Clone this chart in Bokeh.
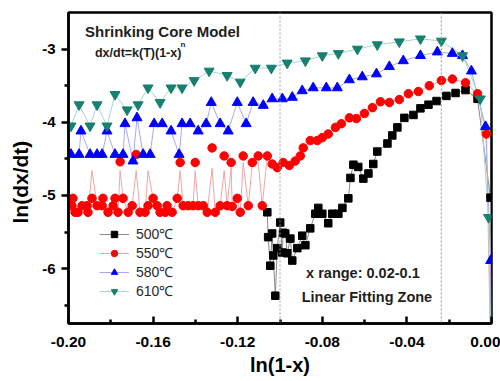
from bokeh.plotting import figure
from bokeh.models import (Range1d, FixedTicker, PrintfTickFormatter, Label, Span,
                          Legend, LegendItem, Title)
from bokeh.embed import file_html
from bokeh.resources import INLINE

# ---------------- data ----------------
series_labels = ["500℃", "550℃", "580℃", "610℃"]

x500 = [-0.1060, -0.1056, -0.1046, -0.1037, -0.1032, -0.1022, -0.1013, -0.0999, -0.0989, -0.0985,
        -0.0975, -0.0966, -0.0951, -0.0942, -0.0918, -0.0895, -0.0880, -0.0857, -0.0833, -0.0819,
        -0.0800, -0.0772, -0.0753, -0.0724, -0.0705, -0.0677, -0.0667, -0.0653, -0.0630, -0.0606,
        -0.0582, -0.0559, -0.0540, -0.0492, -0.0469, -0.0445, -0.0412, -0.0369, -0.0336, -0.0298,
        -0.0260, -0.0213, -0.0170, -0.0123, -0.0066, -0.0005, -0.0002]
y500 = [-5.23, -5.57, -5.96, -5.52, -5.82, -6.37, -5.72, -5.37, -5.78, -5.51,
        -5.52, -5.79, -5.59, -5.89, -5.72, -5.55, -5.68, -5.45, -5.25, -5.17,
        -5.25, -5.38, -5.25, -5.25, -5.17, -5.04, -4.76, -4.58, -4.61, -4.77,
        -4.70, -4.57, -4.40, -4.29, -4.18, -4.07, -3.94, -3.90, -3.81, -3.76,
        -3.71, -3.64, -3.60, -3.56, -3.68, -5.03, -7.50]

x550 = [-0.1984, -0.1979, -0.1969, -0.1955, -0.1936, -0.1912, -0.1908, -0.1889, -0.1865, -0.1841,
        -0.1837, -0.1813, -0.1789, -0.1780, -0.1766, -0.1756, -0.1742, -0.1718, -0.1699, -0.1680,
        -0.1662, -0.1638, -0.1624, -0.1600, -0.1581, -0.1567, -0.1543, -0.1534, -0.1510, -0.1486,
        -0.1472, -0.1458, -0.1434, -0.1411, -0.1401, -0.1387, -0.1363, -0.1344, -0.1321, -0.1306,
        -0.1283, -0.1264, -0.1250, -0.1231, -0.1226, -0.1202, -0.1188, -0.1174, -0.1150, -0.1131,
        -0.1103, -0.1084, -0.1060, -0.1037, -0.1013, -0.0985, -0.0956, -0.0928, -0.0904, -0.0890,
        -0.0857, -0.0824, -0.0800, -0.0772, -0.0738, -0.0710, -0.0672, -0.0639, -0.0601, -0.0563,
        -0.0525, -0.0483, -0.0436, -0.0393, -0.0346, -0.0294, -0.0237, -0.0185, -0.0123, -0.0066,
        -0.0024, -0.0002]
y550 = [-5.14, -5.04, -5.23, -5.23, -5.14, -5.14, -5.23, -5.04, -5.14, -5.14,
        -5.04, -5.23, -5.14, -5.04, -5.23, -4.54, -5.04, -5.23, -5.14, -4.44,
        -5.23, -5.23, -5.14, -5.04, -5.14, -5.23, -5.23, -5.14, -5.23, -5.04,
        -4.55, -5.14, -5.14, -5.14, -4.55, -5.14, -5.14, -5.23, -4.35, -5.23,
        -5.14, -4.46, -5.14, -4.55, -5.15, -5.04, -5.23, -4.46, -5.14, -4.55,
        -4.46, -5.14, -4.46, -4.57, -4.62, -4.55, -4.59, -4.53, -4.46, -4.35,
        -4.25, -4.25, -4.21, -4.16, -4.07, -4.02, -3.94, -3.95, -3.88, -3.80,
        -3.72, -3.73, -3.69, -3.61, -3.58, -3.50, -3.43, -3.41, -3.46, -3.61,
        -4.16, -7.50]
# the connecting (smoothed) line of the 550 series, read separately: its spikes
# stop short of the upper markers
y550_line = [-5.14, -5.04, -5.23, -5.23, -5.14, -5.14, -5.23, -4.66, -5.14, -5.14,
             -5.04, -5.23, -5.14, -5.04, -5.23, -4.66, -5.04, -5.23, -5.14, -4.66,
             -5.23, -5.23, -4.66, -5.04, -5.14, -5.23, -5.23, -5.14, -5.23, -5.04,
             -4.66, -5.14, -5.14, -5.14, -4.66, -5.14, -5.14, -5.23, -4.63, -5.23,
             -5.14, -4.66, -5.14, -4.62, -5.15, -5.04, -5.23, -4.55, -5.14, -4.58,
             -4.55, -5.14, -4.46, -4.57, -4.62, -4.55, -4.59, -4.53, -4.46, -4.35,
             -4.25, -4.25, -4.21, -4.16, -4.07, -4.02, -3.94, -3.95, -3.88, -3.80,
             -3.72, -3.73, -3.69, -3.61, -3.58, -3.50, -3.43, -3.41, -3.46, -3.61,
             -4.16, -7.50]

x580 = [-0.1988, -0.1950, -0.1941, -0.1898, -0.1865, -0.1841, -0.1818, -0.1780, -0.1742, -0.1733,
        -0.1695, -0.1676, -0.1647, -0.1614, -0.1595, -0.1557, -0.1515, -0.1477, -0.1463, -0.1425,
        -0.1387, -0.1349, -0.1325, -0.1283, -0.1245, -0.1202, -0.1160, -0.1127, -0.1079, -0.1037,
        -0.0989, -0.0942, -0.0895, -0.0843, -0.0781, -0.0729, -0.0672, -0.0611, -0.0544, -0.0483,
        -0.0417, -0.0336, -0.0256, -0.0185, -0.0137, -0.0095, -0.0028, -0.0004, -0.0001]
y580 = [-4.44, -4.44, -4.12, -4.44, -4.44, -4.44, -4.12, -4.44, -4.44, -4.02,
        -4.53, -3.94, -4.44, -4.44, -4.02, -4.02, -4.12, -4.44, -4.02, -4.02,
        -4.12, -4.02, -3.73, -4.02, -4.12, -3.73, -4.02, -3.73, -3.77, -3.68,
        -3.68, -3.66, -3.57, -3.53, -3.53, -3.53, -3.42, -3.38, -3.34, -3.24,
        -3.16, -3.09, -3.04, -3.06, -3.09, -3.30, -4.06, -5.89, -7.50]

x610 = [-0.1988, -0.1950, -0.1898, -0.1865, -0.1818, -0.1780, -0.1723, -0.1671, -0.1624, -0.1567,
        -0.1515, -0.1463, -0.1406, -0.1335, -0.1250, -0.1188, -0.1117, -0.1041, -0.0966, -0.0880,
        -0.0800, -0.0724, -0.0634, -0.0540, -0.0436, -0.0336, -0.0237, -0.0137, -0.0053, -0.0014,
        -0.0001]
y610 = [-4.05, -3.76, -4.05, -3.76, -4.05, -3.62, -3.83, -3.76, -3.53, -3.73,
        -3.53, -3.53, -3.43, -3.30, -3.36, -3.45, -3.26, -3.26, -3.19, -3.16,
        -3.09, -3.06, -3.00, -2.94, -2.90, -2.86, -2.89, -3.09, -3.68, -5.30,
        -7.50]

x_ticks = [-0.20, -0.16, -0.12, -0.08, -0.04, 0.00]
x_minor = [-0.18, -0.14, -0.10, -0.06, -0.02]
y_ticks = [-6, -5, -4, -3]
y_minor = [-6.5, -5.5, -4.5, -3.5]
fit_bounds = [-0.1, -0.0237]

# ---------------- figure ----------------
FONT = "Liberation Sans"
p = figure(width=500, height=381, output_backend="svg", toolbar_location=None,
           x_range=Range1d(-0.2, 0.0), y_range=Range1d(-6.75, -2.5),
           min_border_left=68, min_border_right=9, min_border_top=12, min_border_bottom=58)
p.xgrid.visible = False
p.ygrid.visible = False
p.outline_line_color = "black"
p.outline_line_width = 2.5
p.background_fill_color = "white"
p.border_fill_color = "white"

for ax in (p.xaxis[0], p.yaxis[0]):
    ax.axis_line_width = 2.5
    ax.major_tick_line_width = 2.5
    ax.minor_tick_line_width = 2.5
    ax.major_label_text_font = FONT
    ax.major_label_text_font_style = "bold"
    ax.major_label_text_color = "black"

xa = p.xaxis[0]
xa.ticker = FixedTicker(ticks=x_ticks, minor_ticks=x_minor)
xa.formatter = PrintfTickFormatter(format="%.2f")
xa.major_label_text_font_size = "15.5px"
xa.major_tick_in = 7
xa.major_tick_out = 0
xa.minor_tick_in = 4
xa.minor_tick_out = 0
xa.major_label_standoff = 13
xa.axis_label = "ln(1-x)"
xa.axis_label_text_font = FONT
xa.axis_label_text_font_style = "bold"
xa.axis_label_text_font_size = "20px"
xa.axis_label_text_color = "black"
xa.axis_label_standoff = 4

ya = p.yaxis[0]
ya.ticker = FixedTicker(ticks=y_ticks, minor_ticks=y_minor)
ya.formatter = PrintfTickFormatter(format="%d")
ya.major_label_text_font_size = "15px"
ya.major_tick_in = 0
ya.major_tick_out = 7
ya.minor_tick_in = 0
ya.minor_tick_out = 4
ya.major_label_standoff = 6

# y axis title as a side title, started a fixed distance above the frame bottom
p.add_layout(Title(text="ln(dx/dt)", align="left", vertical_align="middle", offset=100,
                   standoff=14, text_font=FONT, text_font_style="bold",
                   text_font_size="21px", text_color="black"), "left")

for loc in fit_bounds:
    p.add_layout(Span(location=loc, dimension="height", line_color="#9a9a9a",
                      line_width=1, line_dash="2 2"))

# lines
l500 = p.line(x500, y500, line_color="#8a8a8a", line_width=1)
l550 = p.line(x550, y550_line, line_color="#f3a4a4", line_width=1)
l580 = p.line(x580, y580, line_color="#a9a9f2", line_width=1)
l610 = p.line(x610, y610, line_color="#a6d6cf", line_width=1)

# markers
m500 = p.scatter(x500, y500, marker="square", size=7.5, fill_color="black", line_color="black")
m550 = p.scatter(x550, y550, marker="circle", size=8.5, fill_color="#ff0000", line_color="#ff0000")
m580 = p.scatter(x580, y580, marker="triangle", size=10, fill_color="#0000ff", line_color="#0000ff")
m610 = p.scatter(x610, y610, marker="inverted_triangle", size=10, fill_color="#17806f",
                 line_color="#17806f")

legend = Legend(items=[LegendItem(label=series_labels[0], renderers=[l500, m500]),
                       LegendItem(label=series_labels[1], renderers=[l550, m550]),
                       LegendItem(label=series_labels[2], renderers=[l580, m580]),
                       LegendItem(label=series_labels[3], renderers=[l610, m610])],
                location=(31, 23), border_line_color=None, background_fill_alpha=0,
                label_text_font=FONT, label_text_font_size="14px", label_text_color="#2a2a2a",
                glyph_width=30, glyph_height=16, label_height=16, spacing=0,
                padding=0, margin=0, label_standoff=7)
p.add_layout(legend)

txt = dict(text_font=FONT, text_font_style="bold", text_color="#1e1e1e", text_baseline="middle")
p.add_layout(Label(x=-0.1922, y=-2.764, text="Shrinking Core Model", text_font_size="15px", **txt))
p.add_layout(Label(x=-0.1875, y=-3.05, text="dx/dt=k(T)(1-x)", text_font_size="12.5px", **txt))
p.add_layout(Label(x=-0.1470, y=-2.94, text="n", text_font_size="8px", **txt))
p.add_layout(Label(x=-0.0608, y=-6.066, text="x range: 0.02-0.1", text_font_size="14.5px",
                   text_align="center", **txt))
p.add_layout(Label(x=-0.0589, y=-6.393, text="Linear Fitting Zone", text_font_size="14.5px",
                   text_align="center", **txt))

open("out.html", "w").write(file_html(p, INLINE))
